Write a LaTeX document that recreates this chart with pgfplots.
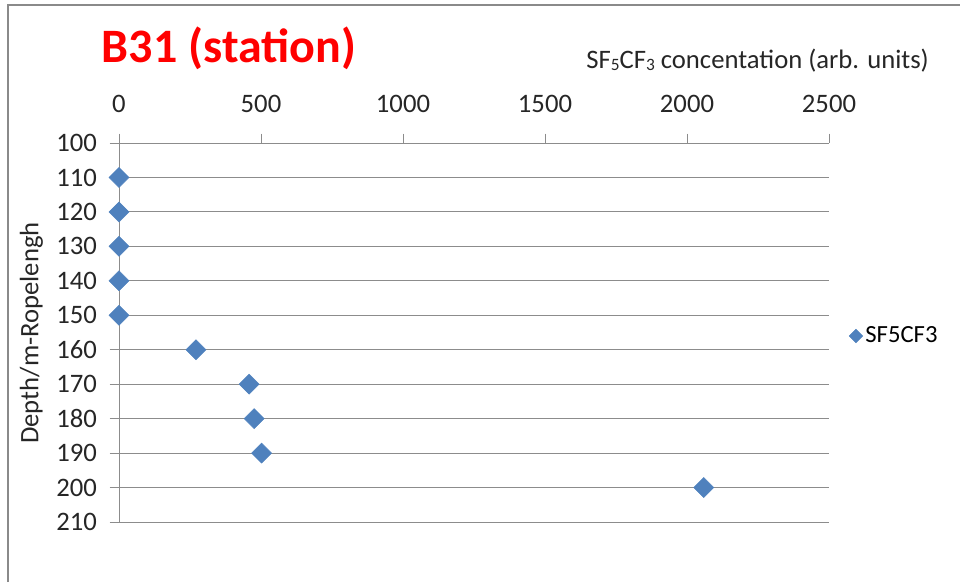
\documentclass[border=0pt]{standalone}
\usepackage{pgfplots}
\pgfplotsset{compat=1.18}
\usepackage{fontspec}
\setmainfont{Carlito}

\definecolor{gridgray}{HTML}{8C8C8C}
\definecolor{framegray}{HTML}{8A8A8A}
\definecolor{markblue}{HTML}{4F81BD}
\definecolor{titlered}{HTML}{FF0000}

\begin{document}
\begin{tikzpicture}
\useasboundingbox (0,0) rectangle (720pt,436.5pt);
% chart frame (top and left edges)
\draw[framegray, line width=2pt] (6pt,0) -- (6pt,432.75pt) -- (720pt,432.75pt);

\begin{axis}[
  at={(89.25pt,45pt)}, anchor=south west,
  scale only axis, width=532.5pt, height=284.25pt,
  xmin=0, xmax=2500, ymin=100, ymax=210,
  y dir=reverse,
  xtick={0,500,...,2500},
  ytick={100,110,...,210},
  xtick pos=right, ytick pos=left,
  xticklabel pos=right,
  tick align=outside,
  major tick length=7pt,
  tick style={gridgray, line width=0.75pt},
  axis line style={draw=none},
  ymajorgrids,
  grid style={gridgray, line width=0.75pt},
  /pgf/number format/assume math mode=true,
  /pgf/number format/1000 sep={},
  tick label style={font=\fontsize{20}{22}\selectfont, text=black!85},
  yticklabel style={xshift=-6pt},
  xticklabel style={yshift=12pt},
  clip=false,
  legend style={at={(axis description cs:1.028,0.4908)}, anchor=west,
    draw=none, fill=none, font=\fontsize{18.5}{20}\selectfont, inner sep=0pt},
  legend image code/.code={\draw[mark=square*, mark size=3.6pt, mark options={rotate=45, markblue, draw=markblue}] plot coordinates {(0.3cm,0cm)};},
]
\addplot[only marks, mark=square*, mark size=5.3pt,
  mark options={rotate=45, fill=markblue, draw=markblue}]
  coordinates {
    (0,110) (0,120) (0,130) (0,140) (0,150)
    (271,160) (458,170) (476,180) (502,190) (2059,200)
  };
\addlegendentry{SF5CF3}
% vertical axis line at zero concentration
\draw[gridgray, line width=0.75pt] (axis cs:0,100) -- (axis cs:0,210);
\end{axis}

% chart title
\node[anchor=base, text=titlered, font=\fontsize{36}{40}\selectfont\bfseries]
  at (171.75pt,389.5pt) {B31 (station)};
% axis titles
\node[anchor=base west, inner sep=0pt, font=\fontsize{20}{22}\selectfont, text=black!85]
  at (439.5pt,385.3pt) {SF{\fontsize{13}{13}\selectfont\raisebox{-1.5pt}{5}}CF{\fontsize{13}{13}\selectfont\raisebox{-1.5pt}{3}} concentation (arb. units)};
\node[rotate=90, inner sep=0pt, font=\fontsize{20}{22}\selectfont, text=black!85]
  at (23.6pt,186.75pt) {Depth/m-Ropelengh};
\end{tikzpicture}
\end{document}
